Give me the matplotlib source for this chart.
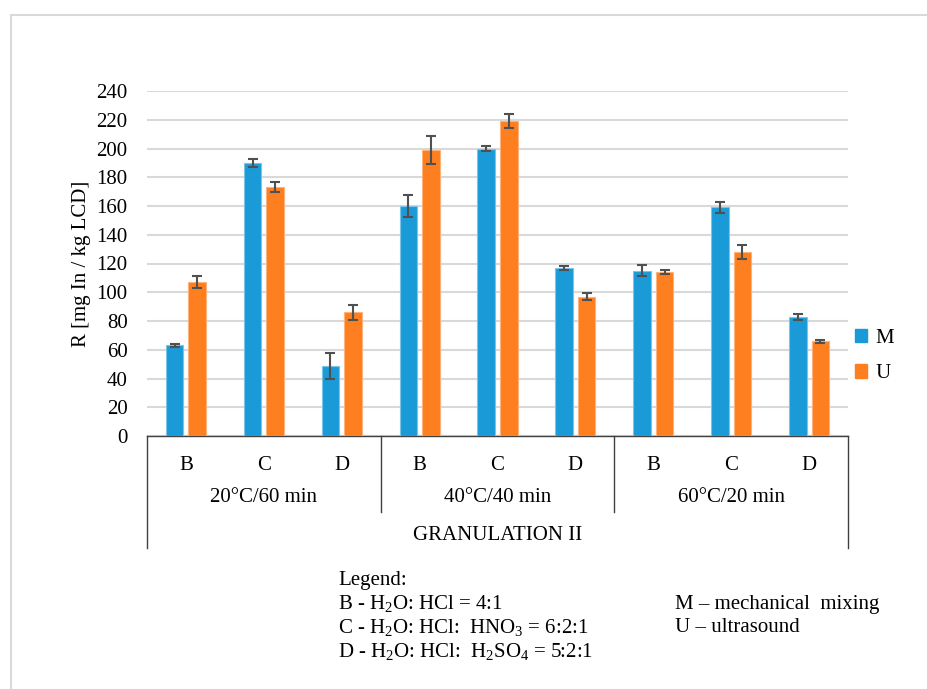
import matplotlib
matplotlib.use("Agg")
import matplotlib.pyplot as plt
import numpy as np
from matplotlib.patches import Patch
from matplotlib.lines import Line2D

plt.rcParams['font.family'] = ['Liberation Serif', 'DejaVu Serif']
plt.rcParams['mathtext.fontset'] = 'custom'
plt.rcParams['mathtext.rm'] = 'Liberation Serif'
plt.rcParams['mathtext.it'] = 'Liberation Serif:italic'

# ---- data ----
groups = ['20°C/60 min', '40°C/40 min', '60°C/20 min']
subcats = ['B', 'C', 'D']
M_vals = [63, 190, 49, 160, 200, 117, 115, 159, 83]
M_err = [1.3, 2.7, 9.0, 7.5, 1.5, 1.5, 4.0, 4.0, 2.0]
U_vals = [107, 173, 86, 199, 219, 97, 114, 128, 66]
U_err = [4.0, 3.4, 5.0, 9.5, 5.0, 2.5, 1.5, 5.0, 1.0]
yticks = list(range(0, 241, 20))
super_label = 'GRANULATION II'
ylabel = 'R [mg In / kg LCD]'
legend_lines_left = ['Legend:', 'B - H$_2$O: HCl = 4:1',
                     'C - H$_2$O: HCl:  HNO$_3$ = 6:2:1',
                     'D - H$_2$O: HCl:  H$_2$SO$_4$ = 5:2:1']
legend_lines_right = ['M – mechanical  mixing', 'U – ultrasound']

blue = '#1a9bd7'
orange = '#fd7f1f'
FS = 15

W, H = 927, 689
fig = plt.figure(figsize=(W / 100, H / 100), dpi=100)

# outer frame (top & left visible)
fig.add_artist(Line2D([11 / W, 11 / W], [0, 1 - 15 / H], color='#d9d9d9', lw=1.5))
fig.add_artist(Line2D([11 / W, 926 / W], [1 - 15 / H, 1 - 15 / H], color='#d9d9d9', lw=1.5))

left, right, top, bottom = 147, 848, 91, 436
ax = fig.add_axes([left / W, 1 - bottom / H, (right - left) / W, (bottom - top) / H])

n = len(M_vals)
x = np.arange(n)
bw = 0.225
off = 0.145
ekw = dict(ecolor='#505050', elinewidth=1.5, capsize=3.5, capthick=1.5)
ax.bar(x - off, M_vals, bw, color=blue, edgecolor='#7cc4ea', linewidth=0.8,
       yerr=M_err, error_kw=ekw, zorder=3, label='M')
ax.bar(x + off, U_vals, bw, color=orange, edgecolor='#ffb27a', linewidth=0.8,
       yerr=U_err, error_kw=ekw, zorder=3, label='U')

ax.set_xlim(-0.5, n - 0.5)
ax.set_ylim(0, 240)
ax.set_yticks(yticks)
ax.yaxis.grid(True, color='#d9d9d9', lw=1.5, zorder=0)
ax.set_axisbelow(True)
for s in ax.spines.values():
    s.set_visible(False)
ax.tick_params(axis='y', length=0, labelsize=FS, pad=14)
ax.set_xticks([])
ax.set_ylabel(ylabel, fontsize=FS, labelpad=4)

# category axis box
h = bottom - top
def yf(py):
    return -(py - bottom) / h

lk = dict(color='#404040', lw=1.0, clip_on=False, transform=ax.get_xaxis_transform())
ax.plot([-0.5, n - 0.5], [0, 0], **lk)
ax.plot([-0.5, -0.5], [0, yf(548)], **lk)
ax.plot([n - 0.5, n - 0.5], [0, yf(548)], **lk)
for g in range(1, len(groups)):
    xs = g * len(subcats) - 0.5
    ax.plot([xs, xs], [0, yf(512)], **lk)

tr = ax.get_xaxis_transform()
for i in range(n):
    ax.text(i, yf(465), subcats[i % len(subcats)], ha='center', va='center',
            fontsize=FS, transform=tr)
for g, name in enumerate(groups):
    ax.text(g * len(subcats) + 1, yf(498), name, ha='center', va='center',
            fontsize=FS, transform=tr)
ax.text((n - 1) / 2, yf(535), super_label, ha='center', va='center',
        fontsize=FS, transform=tr)

# series legend
handles = [Patch(facecolor=blue, edgecolor=blue, label='M'),
           Patch(facecolor=orange, edgecolor=orange, label='U')]
fig.legend(handles=handles, loc='center left', bbox_to_anchor=(836 / W, 1 - 356 / H),
           frameon=False, fontsize=FS, handlelength=0.6, handleheight=0.6,
           handletextpad=0.4, labelspacing=0.8)

# bottom text legend
ys = [580, 604, 628, 652]
for t, py in zip(legend_lines_left, ys):
    fig.text(338 / W, 1 - py / H, t, ha='left', va='center', fontsize=FS)
for t, py in zip(legend_lines_right, ys[1:]):
    fig.text(675 / W, 1 - py / H, t, ha='left', va='center', fontsize=FS)

fig.savefig('out.png', dpi=100)
